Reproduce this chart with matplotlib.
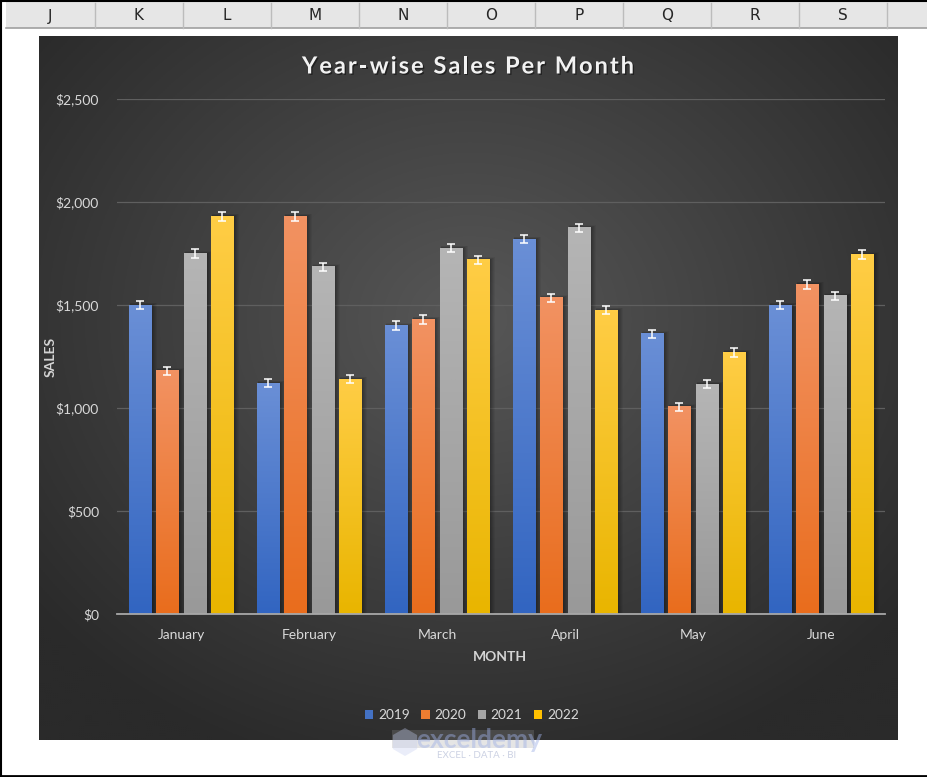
import numpy as np
import matplotlib
matplotlib.use("Agg")
import matplotlib.pyplot as plt
from matplotlib.colors import to_rgb
from matplotlib.patches import Rectangle, Patch, RegularPolygon
import matplotlib.patheffects as pe

# ---------------- data ----------------
months = ["January", "February", "March", "April", "May", "June"]
years = ["2019", "2020", "2021", "2022"]
sales_2019 = [1500, 1120, 1400, 1820, 1360, 1500]
sales_2020 = [1180, 1930, 1430, 1535, 1005, 1600]
sales_2021 = [1750, 1685, 1775, 1875, 1115, 1545]
sales_2022 = [1930, 1140, 1720, 1475, 1270, 1745]
error_value = 20
y_ticks = [0, 500, 1000, 1500, 2000, 2500]
y_tick_labels = ["$0", "$500", "$1,000", "$1,500", "$2,000", "$2,500"]
sheet_columns = ["J", "K", "L", "M", "N", "O", "P", "Q", "R", "S"]
title = "Year-wise Sales Per Month"

series = [sales_2019, sales_2020, sales_2021, sales_2022]
top_colors = ["#6a8fd6", "#f29262", "#b5b5b5", "#ffcd45"]
bottom_colors = ["#3265c1", "#e96d1d", "#999999", "#e9b500"]
legend_colors = ["#4472c4", "#ed7d31", "#a5a5a5", "#ffc000"]

W, H = 927, 777
fig = plt.figure(figsize=(W / 100, H / 100), dpi=100)
fig.patch.set_facecolor("white")
font = "Lato"


def fx(px):
    return px / W


def fy(py):
    return 1 - py / H


# ---------------- spreadsheet decoration ----------------
deco = fig.add_axes([0, 0, 1, 1], zorder=0)
deco.set_xlim(0, W)
deco.set_ylim(H, 0)
deco.axis("off")
deco.add_patch(Rectangle((6, 2), W - 6, 26, facecolor="#e6e6e6", edgecolor="none"))
deco.plot([6, W], [28, 28], color="#a0a0a0", lw=1.2)
edges = [6] + [95 + 88 * k for k in range(len(sheet_columns))]
for e in edges[1:]:
    deco.plot([e, e], [3, 28], color="#bcbcbc", lw=1)
for i, c in enumerate(sheet_columns):
    deco.text((edges[i] + edges[i + 1]) / 2, 16, c, ha="center", va="center",
              fontsize=11, color="#262626", family="DejaVu Sans")
# outer frame
deco.plot([0.5, 0.5], [0, H], color="black", lw=1.5)
deco.plot([0, W], [0.7, 0.7], color="black", lw=1.5)
deco.plot([0, W], [H - 1.5, H - 1.5], color="black", lw=2)

# ---------------- chart area background ----------------
cx0, cx1, cy0, cy1 = 39, 898, 36, 740
bg = fig.add_axes([fx(cx0), fy(cy1), (cx1 - cx0) / W, (cy1 - cy0) / H], zorder=1)
bg.axis("off")
X, Y = np.meshgrid(np.linspace(cx0, cx1, 430), np.linspace(cy0, cy1, 352))
d = np.sqrt(((X - 470) / 560) ** 2 + ((Y - 320) / 470) ** 2)
d = np.clip(d, 0, 1)
c_center, c_edge = 0x57 / 255, 0x2a / 255
val = c_center + (c_edge - c_center) * d
img = np.dstack([val, val, val])
bg.imshow(img, extent=[0, 1, 0, 1], origin="upper", aspect="auto")
bg.set_xlim(0, 1)
bg.set_ylim(0, 1)

# ---------------- plot area ----------------
px0, px1, py0, py1 = 117, 885, 99, 614
ax = fig.add_axes([fx(px0), fy(py1), (px1 - px0) / W, (py1 - py0) / H], zorder=2)
ax.patch.set_alpha(0)
ax.set_xlim(-0.5, len(months) - 0.5)
ax.set_ylim(0, 2500)

bar_w = 0.172
step = 0.216
xunit = 1 / 128.0       # one pixel in data x
yunit = 2500 / 515.0    # one pixel in data y
x = np.arange(len(months))


def gradient_bar(ax, x0, w, h, ctop, cbot):
    # soft shadow
    for k, a in [(5, 0.05), (4, 0.06), (3, 0.07), (2, 0.08), (1, 0.09)]:
        ax.add_patch(Rectangle((x0 + 1 * xunit, 0), w + k * xunit, h + k * yunit * 0.5,
                               facecolor="black", edgecolor="none", alpha=a, zorder=2))
    t = to_rgb(ctop)
    b = to_rgb(cbot)
    n = 64
    f = np.linspace(0, 1, n)[:, None]
    grad = (np.array(t)[None, :] * (1 - f) + np.array(b)[None, :] * f)[:, None, :]
    ax.imshow(grad, extent=[x0, x0 + w, 0, h], origin="upper", aspect="auto",
              zorder=3, interpolation="bilinear")


for i, vals in enumerate(series):
    off = (i - 1.5) * step
    for j, v in enumerate(vals):
        gradient_bar(ax, x[j] + off - bar_w / 2, bar_w, v, top_colors[i], bottom_colors[i])
    ax.errorbar(x + off, vals, yerr=error_value, fmt="none", ecolor="white",
                elinewidth=1.1, capsize=3.2, capthick=1.1, zorder=5)

ax.set_xlim(-0.5, len(months) - 0.5)
ax.set_ylim(0, 2500)
ax.set_yticks(y_ticks)
ax.set_yticklabels(y_tick_labels)
ax.set_xticks(x)
ax.set_xticklabels(months)
ax.tick_params(axis="both", length=0, colors="#d9d9d9", labelsize=10)
ax.tick_params(axis="y", pad=13)
ax.tick_params(axis="x", pad=11)
for lab in ax.get_xticklabels() + ax.get_yticklabels():
    lab.set_family(font)
ax.grid(axis="y", color="#5f5f5f", lw=0.9)
ax.set_axisbelow(True)
for s in ["top", "right", "left"]:
    ax.spines[s].set_visible(False)
ax.spines["bottom"].set_color("#a8a8a8")
ax.spines["bottom"].set_linewidth(1.3)
ax.spines["bottom"].set_zorder(6)

# ---------------- title with letter spacing ----------------
tax = fig.add_axes([0, 0, 1, 1], zorder=7)
tax.set_xlim(0, W)
tax.set_ylim(H, 0)
tax.axis("off")
renderer = fig.canvas.get_renderer()
tprops = dict(fontsize=17, fontweight="bold", family=font)
extra = 2.0  # px between letters
widths = []
for k in range(1, len(title) + 1):
    tt = tax.text(0, 0, title[:k], **tprops)
    widths.append(tt.get_window_extent(renderer).width)
    tt.remove()
total = widths[-1] + extra * (len(title) - 1)
start = 468 - total / 2
shadow = [pe.withSimplePatchShadow(offset=(1, -1), shadow_rgbFace="black", alpha=0.45)]
for k, ch in enumerate(title):
    prev = widths[k - 1] if k > 0 else 0.0
    tax.text(start + prev + extra * k, 66, ch, ha="left", va="center",
             color="#f2f2f2", path_effects=shadow, **tprops)

fig.text(fx(51), fy(357), "SALES", ha="center", va="center", rotation=90,
         fontsize=10, fontweight="bold", color="#d4d4d4", family=font)
fig.text(fx(500), fy(657), "MONTH", ha="center", va="center",
         fontsize=10, fontweight="bold", color="#d4d4d4", family=font)

handles = [Patch(facecolor=c, edgecolor="none", label=y) for c, y in zip(legend_colors, years)]
leg = fig.legend(handles=handles, loc="center", bbox_to_anchor=(fx(472), fy(715)),
                 ncol=4, frameon=False, handlelength=0.6, handleheight=0.6,
                 handletextpad=0.35, columnspacing=0.85,
                 prop={"family": font, "size": 9.8})
for t in leg.get_texts():
    t.set_color("#d9d9d9")
leg.set_zorder(7)

# watermark
wm = fig.add_axes([0, 0, 1, 1], zorder=8)
wm.set_xlim(0, W)
wm.set_ylim(H, 0)
wm.axis("off")
wm.add_patch(Rectangle((392, 730), 142, 18, facecolor="#9a9a9a", edgecolor="none", alpha=0.25))
wm.text(479, 740, "exceldemy", ha="center", va="center", fontsize=19, fontweight="bold",
        color="#9fb0e6", alpha=0.45, family=font)
wm.text(477, 755, "EXCEL · DATA · BI", ha="center", va="center", fontsize=7,
        color="#9aa5c8", alpha=0.5, family=font)
wm.add_patch(RegularPolygon((405, 742), numVertices=6, radius=14, orientation=0,
                            facecolor="#c3cdf0", edgecolor="none", alpha=0.35))

fig.savefig("out.png", dpi=100, facecolor="white")
